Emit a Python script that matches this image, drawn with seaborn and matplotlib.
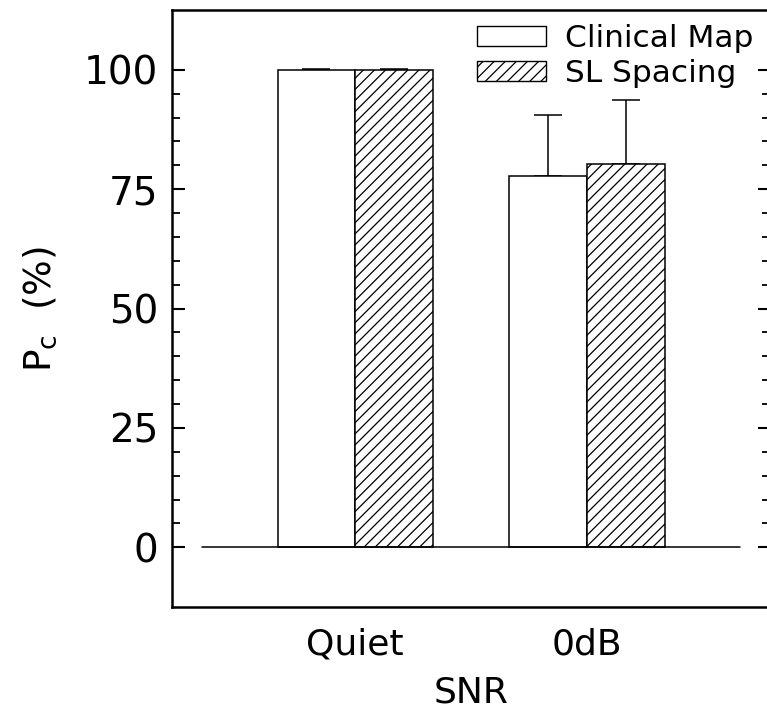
import numpy as np
import pandas as pd
import matplotlib
matplotlib.use('Agg')
import matplotlib.pyplot as plt
from matplotlib.patches import Patch
from matplotlib.ticker import FixedLocator
import seaborn as sns

# data
snr = ['Quiet', '0dB']
maps = ['Clinical Map', 'SL Spacing']
clinical_pc = [100.0, 77.8]
clinical_sd = [0.2, 12.8]
sl_pc = [100.0, 80.3]
sl_sd = [0.2, 13.3]

df = pd.DataFrame({
    'SNR': snr * 2,
    'Map': [maps[0]] * 2 + [maps[1]] * 2,
    'Pc': clinical_pc + sl_pc,
    'SD': clinical_sd + sl_sd,
})

sns.set_style('white')
plt.rcParams['font.family'] = ['DejaVu Sans']
plt.rcParams['hatch.linewidth'] = 0.9
plt.rcParams['text.color'] = 'black'
plt.rcParams['axes.labelcolor'] = 'black'
plt.rcParams['xtick.color'] = 'black'
plt.rcParams['ytick.color'] = 'black'

fig = plt.figure(figsize=(7.67, 7.18), dpi=100)
ax = fig.add_axes([0.2243, 0.1546, 0.7797, 0.8314])

sns.barplot(data=df, x='SNR', y='Pc', hue='Map', order=snr, hue_order=maps,
            palette=['white', 'white'], width=0.67, gap=0, errorbar=None,
            edgecolor='black', linewidth=1.1, legend=False, ax=ax)

hatches = ['', '///']
for cont, h, m in zip(ax.containers, hatches, maps):
    sub = df[df['Map'] == m].set_index('SNR').loc[snr]
    xs = []
    for bar in cont:
        bar.set_hatch(h)
        bar.set_zorder(2)
        xs.append(bar.get_x() + bar.get_width() / 2)
    ax.errorbar(xs, sub['Pc'], yerr=[np.zeros(len(xs)), sub['SD']], fmt='none',
                ecolor='black', elinewidth=1.1, capsize=10, capthick=1.1, zorder=1)

ax.plot([-0.66, 1.66], [0, 0], color='black', lw=1.1, zorder=3)

ax.set_xlim(-0.79, 1.79)
ax.set_ylim(-12.5, 112.5)
ax.yaxis.set_major_locator(FixedLocator([0, 25, 50, 75, 100]))
ax.yaxis.set_minor_locator(FixedLocator([v for v in range(5, 100, 5) if v % 25]))
ax.tick_params(axis='y', which='major', direction='in', length=9, width=1.5,
               left=True, right=True, labelsize=28, pad=10)
ax.tick_params(axis='y', which='minor', direction='in', length=5.5, width=1.3,
               left=True, right=True)
ax.tick_params(axis='x', length=0, labelsize=26, pad=15)

for s in ax.spines.values():
    s.set_linewidth(1.8)
    s.set_color('black')

ax.set_xlabel('SNR', fontsize=26, labelpad=10)
ax.set_ylabel(r'P$_{\mathrm{c}}$  (%)', fontsize=27, labelpad=18)

handles = [Patch(facecolor='white', edgecolor='black', hatch=h, linewidth=1.0) for h in hatches]
ax.legend(handles, maps, loc='upper right', frameon=False, fontsize=22.5,
          handlelength=2.2, handleheight=0.6, handletextpad=0.6,
          labelspacing=0.2, borderaxespad=0.05, bbox_to_anchor=(0.995, 1.0))

fig.savefig('out.png', dpi=100)
